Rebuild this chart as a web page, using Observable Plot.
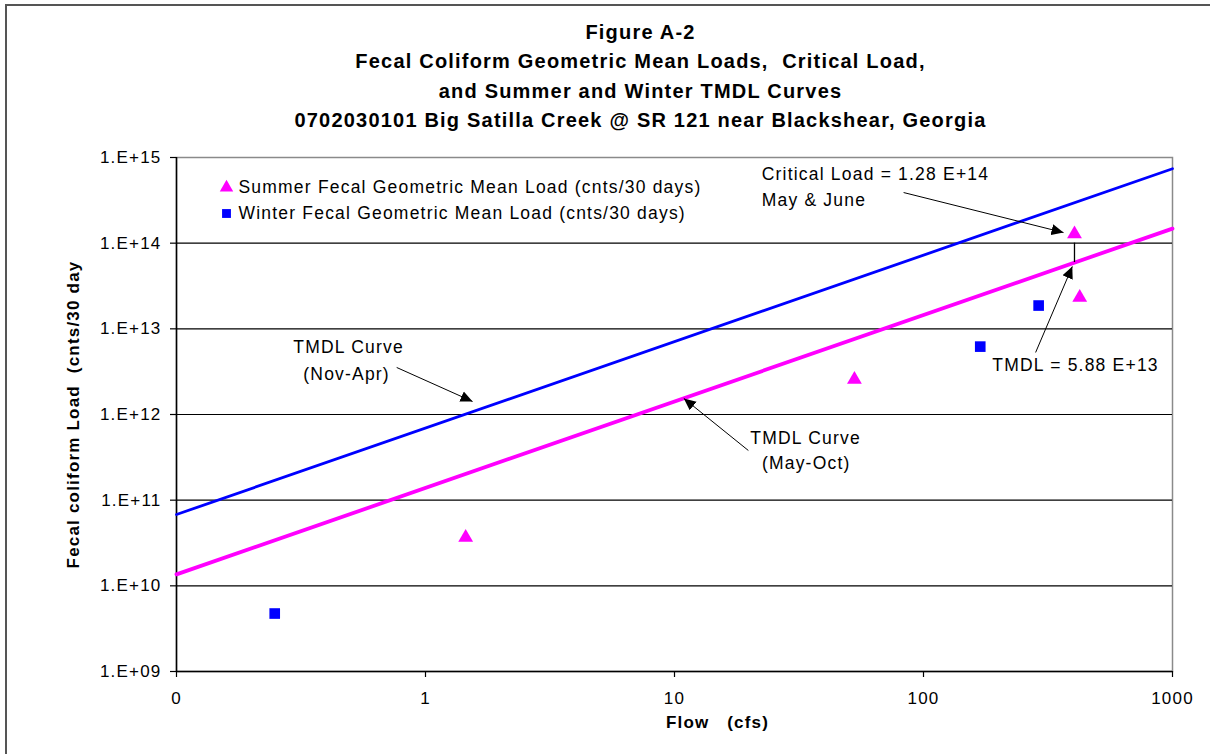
<!DOCTYPE html>
<html>
<head>
<meta charset="utf-8">
<script src="https://cdn.jsdelivr.net/npm/d3@7"></script>
<script src="https://cdn.jsdelivr.net/npm/@observablehq/plot@0.6"></script>
<style>
  html, body { margin: 0; padding: 0; background: #fff; }
  #wrap { position: relative; width: 1210px; height: 754px; overflow: hidden; background: #fff; font-family: "Liberation Sans", Arial, sans-serif; }
  #border { position: absolute; left: 5px; top: 4px; width: 1300px; height: 900px; border: 2px solid #555; box-sizing: border-box; }
  #title { position: absolute; left: 0; top: 18px; width: 1281px; text-align: center; font-weight: bold; font-size: 20px; line-height: 29.3px; color: #000; letter-spacing: 1.2px; }
  #chart { position: absolute; left: 0; top: 140px; }
  #chart svg { white-space: pre; }
  #chart svg text { letter-spacing: 1.2px; }
</style>
</head>
<body>
<div id="wrap">
  <div id="border"></div>
  <div id="title"></div>
  <div id="chart"></div>
</div>
<script>
// ---- Data ----
const titleLines = [
  "Figure A-2",
  "Fecal Coliform Geometric Mean Loads,  Critical Load,",
  "and Summer and Winter TMDL Curves",
  "0702030101 Big Satilla Creek @ SR 121 near Blackshear, Georgia"
];
const xTicks = [0.1, 1, 10, 100, 1000];
const xTickLabels = ["0", "1", "10", "100", "1000"];
const yTicks = [1e9, 1e10, 1e11, 1e12, 1e13, 1e14, 1e15];
const yTickLabels = ["1.E+09", "1.E+10", "1.E+11", "1.E+12", "1.E+13", "1.E+14", "1.E+15"];

const summerFlow = [1.45, 52.8, 404, 424];
const summerLoad = [3.67e10, 2.56e12, 1.28e14, 2.32e13];
const winterFlow = [0.248, 169, 290];
const winterLoad = [4.75e9, 6.2e12, 1.87e13];

const curveFlow = [0.1, 1000];
const winterTMDL = [6.8e10, 7.4e14];   // Nov-Apr
const summerTMDL = [1.36e10, 1.48e14]; // May-Oct

const legendLabels = [
  "Summer Fecal Geometric Mean Load (cnts/30 days)",
  "Winter Fecal Geometric Mean Load (cnts/30 days)"
];

// annotation texts anchored in data space
const noteText = ["Critical Load = 1.28 E+14", "May & June", "TMDL = 5.88 E+13", "TMDL Curve", "(Nov-Apr)", "TMDL Curve", "(May-Oct)"];
const noteFlow = [22.4, 22.4, 189, 0.491, 0.482, 33.6, 33.8];
const noteLoad = [6.3e14, 3.15e14, 3.73e12, 6.06e12, 2.93e12, 5.25e11, 2.68e11];
const noteAnchor = ["start", "start", "start", "middle", "middle", "middle", "middle"];

// arrows (from -> to) in data space
const arrowFlow1 = [83.2, 282, 0.766, 19.8];
const arrowLoad1 = [3.9e14, 5.3e12, 3.54e12, 3.8e11];
const arrowFlow2 = [365, 396, 1.545, 10.9];
const arrowLoad2 = [1.33e14, 5.35e13, 1.42e12, 1.54e12];
// vertical link from critical load to TMDL line
const critFlow = 404;
const critSpan = [1.0e14, 5.95e13];

// ---- Build tables ----
document.getElementById("title").innerHTML = titleLines.map(t => `<div>${t.replace(/ {2}/g, " &nbsp;")}</div>`).join("");

const summer = summerFlow.map((f, i) => ({flow: f, load: summerLoad[i]}));
const winter = winterFlow.map((f, i) => ({flow: f, load: winterLoad[i]}));
const winterCurve = curveFlow.map((f, i) => ({flow: f, load: winterTMDL[i]}));
const summerCurve = curveFlow.map((f, i) => ({flow: f, load: summerTMDL[i]}));
const notes = noteText.map((t, i) => ({text: t, flow: noteFlow[i], load: noteLoad[i], anchor: noteAnchor[i]}));
const arrows = arrowFlow1.map((f, i) => ({x1: f, y1: arrowLoad1[i], x2: arrowFlow2[i], y2: arrowLoad2[i]}));

const filledArrow = (color, context) => {
  const m = d3.create("svg:marker")
    .attr("viewBox", "-12 -6 13 12")
    .attr("markerWidth", 13)
    .attr("markerHeight", 12)
    .attr("markerUnits", "userSpaceOnUse")
    .attr("refX", 0)
    .attr("refY", 0)
    .attr("orient", "auto");
  m.append("path").attr("d", "M-12,-5.5L0,0L-12,5.5Z").attr("fill", "#000").attr("stroke", "none");
  return m.node();
};

const yFmt = d => yTickLabels[yTicks.indexOf(d)] ?? "";
const xFmt = d => xTickLabels[xTicks.indexOf(d)] ?? "";

const chart = Plot.plot({
  width: 1210,
  height: 614,
  marginLeft: 176,
  marginRight: 38,
  marginTop: 17,
  marginBottom: 83,
  style: {fontFamily: "'Liberation Sans', Arial, sans-serif", fontSize: "17px", color: "#000", background: "transparent"},
  x: {type: "log", domain: [0.1, 1000], ticks: xTicks, tickFormat: xFmt, label: null},
  y: {type: "log", domain: [1e9, 1e15], ticks: yTicks, tickFormat: yFmt, label: null},
  marks: [
    Plot.frame({stroke: "#8a8a8a", strokeWidth: 1.5}),
    Plot.ruleY(yTicks.slice(1, -1), {stroke: "#000", strokeWidth: 1.2}),
    Plot.ruleX([0.1], {stroke: "#000", strokeWidth: 1.5}),
    Plot.ruleY([1e9], {stroke: "#000", strokeWidth: 1.5}),
    Plot.axisY({ticks: yTicks, tickFormat: yFmt, tickSize: 6, tickPadding: 9, stroke: "#000", strokeWidth: 1.2, label: null, fontSize: 17}),
    Plot.axisX({ticks: xTicks, tickFormat: xFmt, tickSize: 6, tickPadding: 14, stroke: "#000", strokeWidth: 1.2, label: null, fontSize: 17}),
    Plot.line(winterCurve, {x: "flow", y: "load", stroke: "#0000ff", strokeWidth: 2.8, strokeLinecap: "round", clip: false}),
    Plot.line(summerCurve, {x: "flow", y: "load", stroke: "#ff00ff", strokeWidth: 3.8, strokeLinecap: "round", clip: false}),
    Plot.dot(summer, {x: "flow", y: "load", symbol: "triangle", r: 5.5, fill: "#ff00ff", stroke: "none"}),
    Plot.dot(winter, {x: "flow", y: "load", symbol: "square", r: 6, fill: "#0000ff", stroke: "none"}),
    Plot.ruleX([critFlow], {y1: critSpan[0], y2: critSpan[1], stroke: "#000", strokeWidth: 1.3}),
    Plot.link(arrows, {x1: "x1", y1: "y1", x2: "x2", y2: "y2", stroke: "#000", strokeWidth: 1, markerEnd: filledArrow}),
    Plot.text(notes.filter(d => d.anchor === "start"), {x: "flow", y: "load", text: "text", textAnchor: "start", fontSize: 17.5, fill: "#000"}),
    Plot.text(notes.filter(d => d.anchor === "middle"), {x: "flow", y: "load", text: "text", textAnchor: "middle", fontSize: 17.5, fill: "#000"}),
    // legend
    Plot.dot([0], {frameAnchor: "top-left", dx: 50, dy: 30, symbol: "triangle", r: 5, fill: "#ff00ff"}),
    Plot.dot([0], {frameAnchor: "top-left", dx: 50, dy: 56, symbol: "square", r: 5, fill: "#0000ff"}),
    Plot.text([legendLabels[0]], {frameAnchor: "top-left", dx: 62, dy: 30, lineAnchor: "middle", text: d => d, textAnchor: "start", fontSize: 17.5, fill: "#000"}),
    Plot.text([legendLabels[1]], {frameAnchor: "top-left", dx: 62, dy: 56, lineAnchor: "middle", text: d => d, textAnchor: "start", fontSize: 17.5, fill: "#000"}),
    // axis titles
    Plot.text(["Flow   (cfs)"], {frameAnchor: "bottom", dx: 43, dy: 56, text: d => d, fontWeight: "bold", fontSize: 17, fill: "#000"}),
    Plot.text(["Fecal coliform Load  (cnts/30 day"], {frameAnchor: "left", dx: -103, dy: 0, rotate: -90, textAnchor: "middle", text: d => d, fontWeight: "bold", fontSize: 17, fill: "#000"})
  ]
});
document.getElementById("chart").appendChild(chart);
</script>
</body>
</html>
